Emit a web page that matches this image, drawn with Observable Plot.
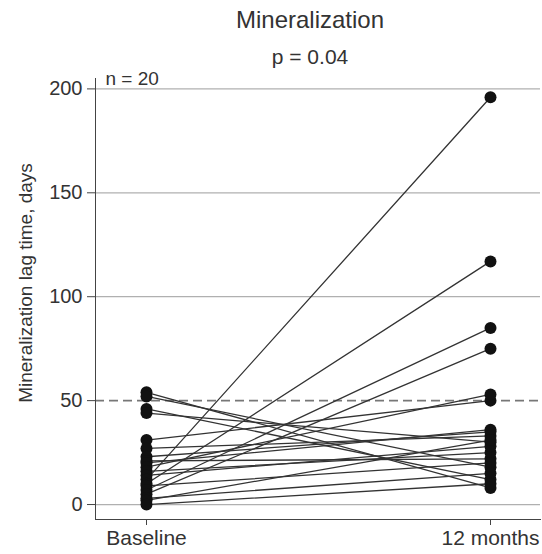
<!DOCTYPE html>
<html><head><meta charset="utf-8">
<script src="https://cdn.jsdelivr.net/npm/d3@7"></script>
<script src="https://cdn.jsdelivr.net/npm/@observablehq/plot@0.6"></script>
<style>
body{margin:0;background:#fff;font-family:"Liberation Sans",Arial,sans-serif;}
#wrap{position:relative;width:542px;height:554px;}
.t{position:absolute;left:0;width:620px;text-align:center;color:#333;line-height:normal;}
</style></head><body>
<div id="wrap">
<div class="t" style="top:6px;font-size:24px;">Mineralization</div>
<div class="t" style="top:45px;font-size:21px;">p = 0.04</div>
</div>
<script>
const timepoints = ["Baseline", "12 months"];
const baseline = [54, 52, 46, 44, 31, 27, 23, 21, 20, 18, 16, 14, 12, 10, 9, 7, 5, 3, 2, 0];
const month12 = [8, 18, 12, 30, 50, 33, 35, 22, 36, 53, 25, 28, 196, 117, 20, 85, 75, 15, 31, 10];
const yTicks = [0, 50, 100, 150, 200];
const solidGrid = [0, 100, 150, 200];
const dashedGrid = [50];

const pts = [];
baseline.forEach((b, i) => {
  pts.push({id: i, t: timepoints[0], v: b});
  pts.push({id: i, t: timepoints[1], v: month12[i]});
});

const chart = Plot.plot({
  width: 542, height: 554,
  marginTop: 78, marginBottom: 35, marginLeft: 95, marginRight: 2,
  style: {fontFamily: "Liberation Sans, Arial, sans-serif", color: "#333", background: "transparent"},
  x: {type: "point", domain: timepoints, padding: 0.145, label: null},
  y: {domain: [-7.2, 205], label: null},
  marks: [
    Plot.ruleY(solidGrid, {stroke: "#b0b0b0", strokeWidth: 1.2}),
    Plot.ruleY(dashedGrid, {stroke: "#777", strokeWidth: 1.6, strokeDasharray: "9,5"}),
    Plot.frame({anchor: "left", stroke: "#444"}),
    Plot.frame({anchor: "bottom", stroke: "#444"}),
    Plot.axisY({ticks: yTicks, tickSize: 8, tickPadding: 5, fontSize: 20, stroke: "#444", label: null}),
    Plot.axisX({tickSize: 6, tickPadding: 5, fontSize: 21, stroke: "#444", label: null}),
    Plot.line(pts, {x: "t", y: "v", z: "id", stroke: "#333", strokeWidth: 1.3}),
    Plot.dot(pts, {x: "t", y: "v", r: 6, fill: "#111", stroke: "none"}),
    Plot.text(["n = 20"], {frameAnchor: "top-left", dx: 10, dy: -7, fontSize: 19, fill: "#333", textAnchor: "start"}),
    Plot.text(["Mineralization lag time, days"], {frameAnchor: "left", textAnchor: "middle", dx: -70, dy: -16, rotate: -90, fontSize: 19, fill: "#333"})
  ]
});
document.getElementById("wrap").prepend(chart);
</script>
</body></html>
